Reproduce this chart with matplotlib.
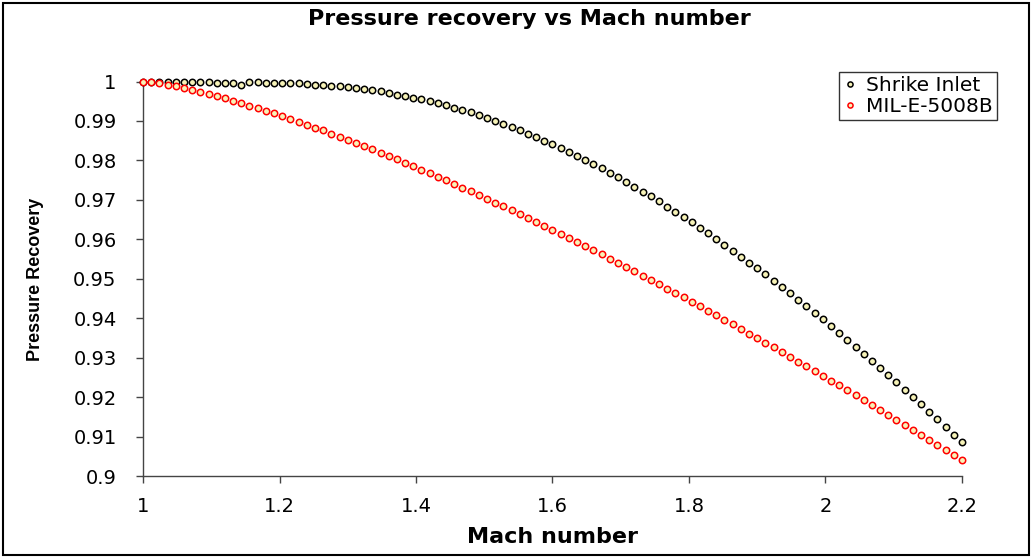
import matplotlib
matplotlib.use('Agg')
import matplotlib.pyplot as plt
from matplotlib.patches import Rectangle

# Mach numbers (step 0.012)
mach = [1.000, 1.012, 1.024, 1.036, 1.048, 1.060, 1.072, 1.084, 1.096, 1.108,
        1.120, 1.132, 1.144, 1.156, 1.168, 1.180, 1.192, 1.204, 1.216, 1.228,
        1.240, 1.252, 1.264, 1.276, 1.288, 1.300, 1.312, 1.324, 1.336, 1.348,
        1.360, 1.372, 1.384, 1.396, 1.408, 1.420, 1.432, 1.444, 1.456, 1.468,
        1.480, 1.492, 1.504, 1.516, 1.528, 1.540, 1.552, 1.564, 1.576, 1.588,
        1.600, 1.612, 1.624, 1.636, 1.648, 1.660, 1.672, 1.684, 1.696, 1.708,
        1.720, 1.732, 1.744, 1.756, 1.768, 1.780, 1.792, 1.804, 1.816, 1.828,
        1.840, 1.852, 1.864, 1.876, 1.888, 1.900, 1.912, 1.924, 1.936, 1.948,
        1.960, 1.972, 1.984, 1.996, 2.008, 2.020, 2.032, 2.044, 2.056, 2.068,
        2.080, 2.092, 2.104, 2.116, 2.128, 2.140, 2.152, 2.164, 2.176, 2.188,
        2.200]

shrike = [1.0000, 1.0000, 1.0000, 1.0000, 0.9999, 0.9999, 0.9999, 0.9998, 0.9998, 0.9997,
          0.9996, 0.9995, 0.9992, 0.9998, 0.9998, 0.9997, 0.9997, 0.9997, 0.9996, 0.9995,
          0.9994, 0.9992, 0.9991, 0.9989, 0.9988, 0.9986, 0.9984, 0.9981, 0.9978, 0.9975,
          0.9971, 0.9967, 0.9963, 0.9959, 0.9955, 0.9950, 0.9945, 0.9940, 0.9934, 0.9928,
          0.9922, 0.9915, 0.9908, 0.9901, 0.9893, 0.9885, 0.9877, 0.9868, 0.9859, 0.9850,
          0.9841, 0.9832, 0.9822, 0.9812, 0.9801, 0.9791, 0.9780, 0.9768, 0.9757, 0.9745,
          0.9733, 0.9721, 0.9709, 0.9696, 0.9683, 0.9670, 0.9656, 0.9643, 0.9629, 0.9615,
          0.9601, 0.9586, 0.9571, 0.9556, 0.9541, 0.9526, 0.9511, 0.9495, 0.9479, 0.9463,
          0.9447, 0.9430, 0.9414, 0.9397, 0.9380, 0.9363, 0.9345, 0.9328, 0.9310, 0.9292,
          0.9274, 0.9256, 0.9238, 0.9219, 0.9201, 0.9182, 0.9163, 0.9144, 0.9125, 0.9105,
          0.9086]

mil_e_5008b = [1.00000, 0.99981, 0.99951, 0.99916, 0.99876, 0.99832, 0.99785, 0.99735, 0.99683, 0.99628,
               0.99572, 0.99513, 0.99452, 0.99389, 0.99325, 0.99259, 0.99192, 0.99123, 0.99053, 0.98981,
               0.98908, 0.98833, 0.98758, 0.98681, 0.98603, 0.98524, 0.98443, 0.98362, 0.98280, 0.98196,
               0.98112, 0.98026, 0.97940, 0.97852, 0.97764, 0.97675, 0.97585, 0.97494, 0.97402, 0.97309,
               0.97216, 0.97121, 0.97026, 0.96930, 0.96833, 0.96736, 0.96638, 0.96538, 0.96439, 0.96338,
               0.96237, 0.96135, 0.96032, 0.95929, 0.95825, 0.95720, 0.95615, 0.95509, 0.95402, 0.95295,
               0.95186, 0.95078, 0.94968, 0.94859, 0.94749, 0.94637, 0.94526, 0.94413, 0.94300, 0.94187,
               0.94073, 0.93958, 0.93843, 0.93728, 0.93611, 0.93494, 0.93377, 0.93259, 0.93141, 0.93021,
               0.92902, 0.92782, 0.92661, 0.92540, 0.92419, 0.92297, 0.92174, 0.92051, 0.91927, 0.91803,
               0.91679, 0.91554, 0.91428, 0.91302, 0.91176, 0.91048, 0.90921, 0.90793, 0.90665, 0.90536,
               0.90407]

x_ticks = [1, 1.2, 1.4, 1.6, 1.8, 2, 2.2]
x_tick_labels = ['1', '1.2', '1.4', '1.6', '1.8', '2', '2.2']
y_ticks = [0.9, 0.91, 0.92, 0.93, 0.94, 0.95, 0.96, 0.97, 0.98, 0.99, 1.0]
y_tick_labels = ['0.9', '0.91', '0.92', '0.93', '0.94', '0.95', '0.96', '0.97', '0.98', '0.99', '1']

plt.rcParams['font.family'] = ['DejaVu Sans']

W, H = 1036, 557
fig = plt.figure(figsize=(W / 100, H / 100), dpi=100)
fig.patch.set_facecolor('white')

ax = fig.add_axes([143 / W, 1 - 476 / H, (962 - 143) / W, (476 - 81.5) / H])

face = '#F7F3B8'
ax.plot(mach, shrike, linestyle='none', marker='o', ms=4.6, mew=1.1,
        mfc=face, mec='black', label='Shrike Inlet', clip_on=False, zorder=3)
ax.plot(mach, mil_e_5008b, linestyle='none', marker='o', ms=4.6, mew=1.1,
        mfc=face, mec='#FF0000', label='MIL-E-5008B', clip_on=False, zorder=4)

ax.set_xlim(1, 2.2)
ax.set_ylim(0.9, 1.0)
ax.set_xticks(x_ticks)
ax.set_xticklabels(x_tick_labels)
ax.set_yticks(y_ticks)
ax.set_yticklabels(y_tick_labels)

for s in ['top', 'right']:
    ax.spines[s].set_visible(False)
for s in ['left', 'bottom']:
    ax.spines[s].set_color('#444444')
    ax.spines[s].set_linewidth(1.0)

ax.tick_params(axis='both', direction='out', length=5, width=1, color='#444444',
               labelsize=14, labelcolor='black')
ax.tick_params(axis='y', pad=14)
ax.tick_params(axis='x', pad=10)

ax.set_xlabel('Mach number', fontsize=16, fontweight='bold', labelpad=8)
ax.set_ylabel('Pressure Recovery', fontsize=13, fontweight='bold',
              family='Liberation Sans')
ax.yaxis.set_label_coords(44 / W, 1 - 279 / H, transform=fig.transFigure)

fig.text(529 / W, 1 - 25 / H, 'Pressure recovery vs Mach number', ha='center',
         va='baseline', fontsize=16, fontweight='bold')

leg = ax.legend(loc='upper left', bbox_to_anchor=(839 / W, 1 - 72 / H),
                bbox_transform=fig.transFigure, borderaxespad=0, fontsize=14.5,
                fancybox=False, framealpha=1, edgecolor='#333333',
                handlelength=0.7, handletextpad=0.45, borderpad=0.2,
                labelspacing=0.08, markerscale=0.8)
leg.get_frame().set_linewidth(1.0)

# outer chart border
fig.patches.append(Rectangle((3 / W, 2 / H), 1026 / W, 552 / H, transform=fig.transFigure,
                             fill=False, edgecolor='black', linewidth=1.5))

fig.savefig('out.png', dpi=100)
